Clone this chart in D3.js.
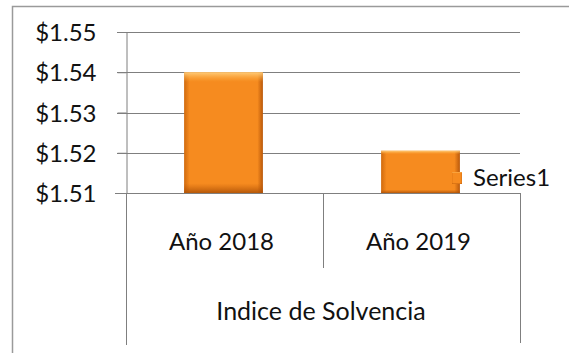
<!DOCTYPE html>
<html>
<head>
<meta charset="utf-8">
<script src="https://cdn.jsdelivr.net/npm/d3@7"></script>
<style>
  html, body { margin: 0; padding: 0; background: #fff; }
  text { font-family: Lato, "Open Sans", sans-serif; fill: #111; }
</style>
</head>
<body>
<script>
const categories = ['Año 2018', 'Año 2019'];
const values = [1.54, 1.5205];
const yTicks = [1.51, 1.52, 1.53, 1.54, 1.55];
const groupLabel = 'Indice de Solvencia';
const seriesName = 'Series1';

const W = 569, H = 353;
const svg = d3.select('body').append('svg')
  .attr('width', W)
  .attr('height', H);

// bar gradients
const defs = svg.append('defs');
const hg = defs.append('linearGradient').attr('id', 'barH').attr('x1', 0).attr('x2', 1).attr('y1', 0).attr('y2', 0);
hg.append('stop').attr('offset', 0).attr('stop-color', '#d06a0e');
hg.append('stop').attr('offset', 0.07).attr('stop-color', '#f68b1f');
hg.append('stop').attr('offset', 0.93).attr('stop-color', '#f68b1f');
hg.append('stop').attr('offset', 1).attr('stop-color', '#b9580a');
const vg = defs.append('linearGradient').attr('id', 'barV').attr('x1', 0).attr('x2', 0).attr('y1', 0).attr('y2', 1);
vg.append('stop').attr('offset', 0).attr('stop-color', '#ffd080').attr('stop-opacity', 0.95);
vg.append('stop').attr('offset', 0.08).attr('stop-color', '#ffb040').attr('stop-opacity', 0);
vg.append('stop').attr('offset', 0.92).attr('stop-color', '#c05a08').attr('stop-opacity', 0);
vg.append('stop').attr('offset', 1).attr('stop-color', '#a94f06').attr('stop-opacity', 0.85);

// outer chart border (only left and top visible in the crop)
svg.append('rect')
  .attr('x', 12.5).attr('y', 6.5)
  .attr('width', 600).attr('height', 400)
  .attr('fill', 'none')
  .attr('stroke', '#9a9a9a')
  .attr('stroke-width', 1.5);

const plotLeft = 126, plotRight = 520;

const x = d3.scaleBand()
  .domain(categories)
  .range([plotLeft, plotRight]);

const y = d3.scaleLinear()
  .domain([1.51, 1.55])
  .range([193, 32]);

// gridlines
svg.append('g')
  .selectAll('line')
  .data(yTicks)
  .join('line')
  .attr('x1', plotLeft - 9)
  .attr('x2', plotRight)
  .attr('y1', d => Math.round(y(d)) + 0.5)
  .attr('y2', d => Math.round(y(d)) + 0.5)
  .attr('stroke', '#7f7f7f')
  .attr('stroke-width', 1);

// y axis
const yAxis = svg.append('g')
  .attr('transform', `translate(${plotLeft + 0.5},0)`)
  .call(d3.axisLeft(y).tickValues(yTicks).tickSize(9).tickPadding(21).tickFormat(d3.format('$.2f')));
yAxis.select('.domain').attr('stroke', '#7f7f7f');
yAxis.selectAll('.tick line').attr('stroke', '#7f7f7f');
yAxis.selectAll('.tick text')
  .attr('font-family', 'Lato, sans-serif')
  .attr('font-size', 24)
  .attr('fill', '#111')
  .attr('dy', '0.36em');

// category axis lines
const axisLines = svg.append('g').attr('stroke', '#7f7f7f').attr('stroke-width', 1);
axisLines.append('line')
  .attr('x1', plotLeft - 11).attr('x2', plotRight)
  .attr('y1', y(1.51) + 0.5).attr('y2', y(1.51) + 0.5);
axisLines.append('line')
  .attr('x1', plotLeft + 0.5).attr('x2', plotLeft + 0.5)
  .attr('y1', y(1.51)).attr('y2', 345);
axisLines.append('line')
  .attr('x1', x(categories[1]) + 0.5).attr('x2', x(categories[1]) + 0.5)
  .attr('y1', y(1.51)).attr('y2', 268);
axisLines.append('line')
  .attr('x1', plotRight + 0.5).attr('x2', plotRight + 0.5)
  .attr('y1', y(1.51)).attr('y2', 343);

// bars
const bw = x.bandwidth() * 0.4;
const bars = svg.append('g')
  .selectAll('g')
  .data(values)
  .join('g');
bars.append('rect')
  .attr('x', (d, i) => x(categories[i]) + x.bandwidth() / 2 - bw / 2 - 1)
  .attr('y', d => y(d))
  .attr('width', bw)
  .attr('height', d => y(1.51) - y(d))
  .attr('fill', 'url(#barH)');
bars.append('rect')
  .attr('x', (d, i) => x(categories[i]) + x.bandwidth() / 2 - bw / 2 - 1)
  .attr('y', d => y(d))
  .attr('width', bw)
  .attr('height', d => y(1.51) - y(d))
  .attr('fill', 'url(#barV)');

// category labels
svg.append('g')
  .selectAll('text')
  .data(categories)
  .join('text')
  .attr('x', d => x(d) + x.bandwidth() / 2 - 3)
  .attr('y', 250)
  .attr('text-anchor', 'middle')
  .attr('font-size', 24)
  .text(d => d);

svg.append('text')
  .attr('x', (plotLeft + plotRight) / 2 - 2)
  .attr('y', 320)
  .attr('text-anchor', 'middle')
  .attr('font-size', 25)
  .text(groupLabel);

// legend
const lg = svg.append('g').attr('transform', 'translate(452,172)');
lg.append('rect').attr('width', 10).attr('height', 12).attr('fill', 'url(#barH)');
lg.append('rect').attr('width', 10).attr('height', 12).attr('fill', 'url(#barV)');
lg.append('text')
  .attr('x', 21)
  .attr('y', 14)
  .attr('font-size', 24)
  .text(seriesName);
</script>
</body>
</html>
